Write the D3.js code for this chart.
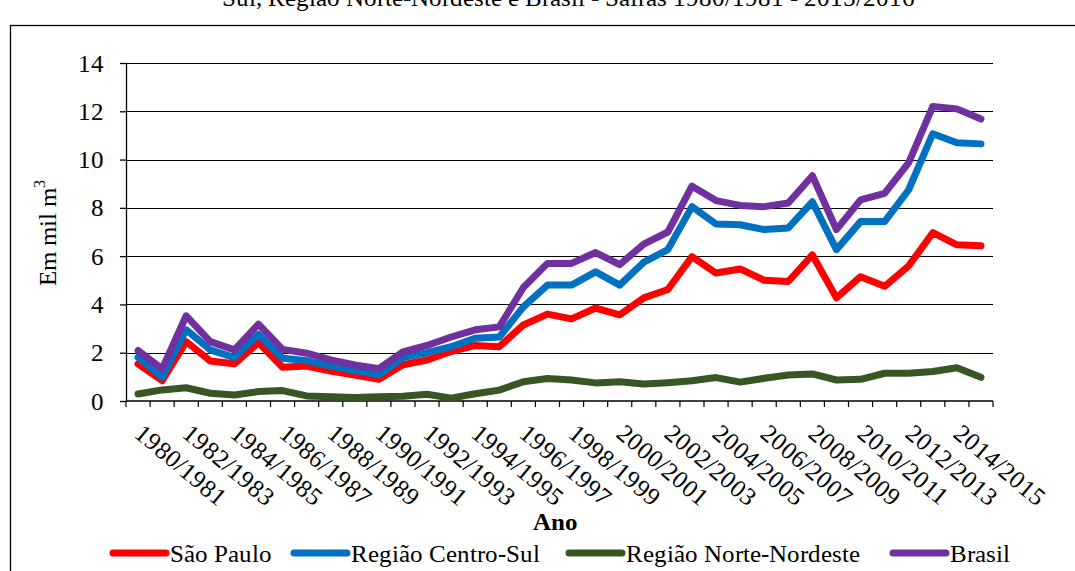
<!DOCTYPE html>
<html>
<head>
<meta charset="utf-8">
<script src="https://cdn.jsdelivr.net/npm/d3@7"></script>
<style>
  @font-face { font-family: "ChartSerif"; src: local("Liberation Serif"), local("LiberationSerif"), local("Times New Roman"); }
  @font-face { font-family: "ChartSerif"; font-weight: bold; src: local("Liberation Serif Bold"), local("LiberationSerif-Bold"); }
</style>
</head>
<body style="margin:0">
<div id="chart"></div>
<script>
const seasons = ['1980/1981', '1981/1982', '1982/1983', '1983/1984', '1984/1985', '1985/1986', '1986/1987', '1987/1988',
  '1988/1989', '1989/1990', '1990/1991', '1991/1992', '1992/1993', '1993/1994', '1994/1995', '1995/1996', '1996/1997',
  '1997/1998', '1998/1999', '1999/2000', '2000/2001', '2001/2002', '2002/2003', '2003/2004', '2004/2005', '2005/2006',
  '2006/2007', '2007/2008', '2008/2009', '2009/2010', '2010/2011', '2011/2012', '2012/2013', '2013/2014', '2014/2015',
  '2015/2016'];
const saoPaulo = [1.54, 0.84, 2.46, 1.66, 1.54, 2.42, 1.40, 1.45, 1.24, 1.08, 0.90, 1.50, 1.70, 2.05, 2.30, 2.25, 3.15, 3.60,
  3.40, 3.85, 3.57, 4.27, 4.62, 5.98, 5.30, 5.47, 5.00, 4.95, 6.05, 4.27, 5.15, 4.75, 5.60, 6.97, 6.47, 6.43];
const centroSul = [1.81, 0.98, 2.95, 2.12, 1.80, 2.76, 1.77, 1.67, 1.45, 1.26, 1.08, 1.80, 2.00, 2.25, 2.60, 2.65, 3.90, 4.80,
  4.80, 5.35, 4.80, 5.75, 6.27, 8.05, 7.33, 7.30, 7.10, 7.17, 8.25, 6.27, 7.43, 7.43, 8.75, 11.07, 10.70, 10.65];
const norteNordeste = [0.29, 0.46, 0.55, 0.32, 0.25, 0.39, 0.43, 0.21, 0.18, 0.15, 0.18, 0.20, 0.28, 0.12, 0.30, 0.45, 0.80, 0.93,
  0.87, 0.75, 0.80, 0.70, 0.76, 0.84, 0.97, 0.78, 0.94, 1.08, 1.12, 0.87, 0.90, 1.15, 1.15, 1.22, 1.38, 0.98];
const brasil = [2.09, 1.33, 3.53, 2.46, 2.12, 3.18, 2.14, 1.98, 1.70, 1.49, 1.34, 2.03, 2.30, 2.65, 2.95, 3.07, 4.70, 5.70,
  5.70, 6.15, 5.65, 6.50, 7.00, 8.90, 8.30, 8.10, 8.05, 8.20, 9.33, 7.10, 8.33, 8.60, 9.87, 12.20, 12.10, 11.68];
const seriesNames = ['São Paulo', 'Região Centro-Sul', 'Região Norte-Nordeste', 'Brasil'];
const yTicks = [0, 2, 4, 6, 8, 10, 12, 14];
const titleText = 'Sul, Região Norte-Nordeste e Brasil - Safras 1980/1981 - 2015/2016';

const width = 1075, height = 571;
const margin = { top: 63, left: 126, right: 82, bottom: 170 };
const fontSize = 25;
const colors = ['#ff0000', '#0070c0', '#375623', '#7030a0'];
const series = [saoPaulo, centroSul, norteNordeste, brasil].map((values, k) => ({ name: seriesNames[k], values, color: colors[k] }));

// serif type on a text element
const serif = sel => sel.attr('font-size', fontSize)
  .style('font-family', 'ChartSerif, "Liberation Serif", "Times New Roman", serif');

const svg = d3.select('#chart').append('svg').attr('width', width).attr('height', height);

// frame (cut off by the page on the right and bottom)
svg.append('rect')
  .attr('x', 10.5).attr('y', 25.5)
  .attr('width', width + 20).attr('height', height + 20)
  .attr('fill', 'none').attr('stroke', '#000').attr('stroke-width', 1.3);

// title, only its last line is in view
svg.append('text')
  .call(serif)
  .attr('x', 568).attr('y', 6)
  .attr('text-anchor', 'middle')
  .text(titleText);

// scales
const x = d3.scaleBand().domain(seasons).range([margin.left, width - margin.right]);
const y = d3.scaleLinear().domain([0, 14]).range([height - margin.bottom, margin.top]);

// grid lines
svg.append('g')
  .selectAll('line')
  .data(yTicks.slice(1))
  .join('line')
  .attr('x1', margin.left).attr('x2', width - margin.right)
  .attr('y1', d => Math.round(y(d)) + 0.5).attr('y2', d => Math.round(y(d)) + 0.5)
  .attr('stroke', '#000').attr('stroke-width', 1.2);

// y axis
const yAxis = svg.append('g')
  .attr('transform', `translate(${margin.left},0)`)
  .call(d3.axisLeft(y).tickValues(yTicks).tickSize(6).tickPadding(16).tickFormat(d3.format('d')));
yAxis.attr('font-family', null);
yAxis.selectAll('text').call(serif).attr('fill', '#000');
yAxis.selectAll('line, path').attr('stroke', '#000').attr('stroke-width', 1.3);
yAxis.select('path').attr('d', `M0.5,${y(0)}V${y(14)}`);

// x axis: ticks between categories
const xAxis = svg.append('g').attr('transform', `translate(0,${y(0)})`);
xAxis.append('line')
  .attr('x1', margin.left).attr('x2', width - margin.right)
  .attr('stroke', '#000').attr('stroke-width', 1.3);
xAxis.selectAll('line.tick')
  .data(d3.range(seasons.length + 1))
  .join('line')
  .classed('tick', true)
  .attr('x1', i => margin.left + i * x.step()).attr('x2', i => margin.left + i * x.step())
  .attr('y1', 0).attr('y2', 6)
  .attr('stroke', '#000').attr('stroke-width', 1.2);

// every other season label, rotated
xAxis.selectAll('text')
  .data(seasons.filter((d, i) => i % 2 === 0))
  .join('text')
  .call(serif)
  .attr('transform', d => `translate(${x(d) + x.bandwidth() / 2 - 5},${35}) rotate(40)`)
  .text(d => d);

// axis titles
svg.append('text')
  .call(serif)
  .attr('x', 555).attr('y', 530)
  .attr('font-weight', 'bold')
  .attr('text-anchor', 'middle')
  .text('Ano');

const yTitle = svg.append('text')
  .call(serif)
  .attr('transform', 'translate(56,233) rotate(-90)')
  .attr('text-anchor', 'middle');
yTitle.append('tspan').text('Em mil m');
yTitle.append('tspan').text('3').attr('font-size', 16).attr('dy', -11);

// lines
const line = d3.line()
  .x((d, i) => x(seasons[i]) + x.bandwidth() / 2)
  .y(d => y(d));

svg.append('g')
  .selectAll('path')
  .data(series)
  .join('path')
  .attr('d', d => line(d.values))
  .attr('fill', 'none')
  .attr('stroke', d => d.color)
  .attr('stroke-width', 7)
  .attr('stroke-linejoin', 'round')
  .attr('stroke-linecap', 'round');

// legend
const legendX = [113, 294, 569, 893];
const legend = svg.append('g')
  .selectAll('g')
  .data(series)
  .join('g')
  .attr('transform', (d, i) => `translate(${legendX[i]},553)`);
legend.append('line')
  .attr('x1', 0).attr('x2', 53)
  .attr('stroke', d => d.color).attr('stroke-width', 7).attr('stroke-linecap', 'round');
legend.append('text')
  .call(serif)
  .attr('x', 57).attr('y', 9)
  .text(d => d.name);
</script>
</body>
</html>
